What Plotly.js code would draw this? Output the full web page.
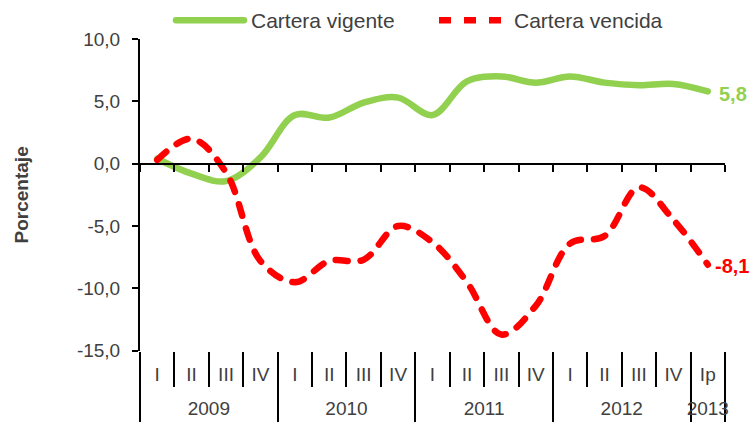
<!DOCTYPE html>
<html>
<head>
<meta charset="utf-8">
<script src="https://cdn.plot.ly/plotly-3.0.1.min.js"></script>
<style>
html,body{margin:0;padding:0;background:#fff;}
#chart{width:754px;height:422px;}
</style>
</head>
<body>
<div id="chart"></div>
<script>
// ---- data ----
const years = ['2009','2009','2009','2009','2010','2010','2010','2010','2011','2011','2011','2011','2012','2012','2012','2012','2013'];
const quarters = ['I','II','III','IV','I','II','III','IV','I','II','III','IV','I','II','III','IV','Ip'];
const carteraVigente = [0.4, -0.8, -1.4, 0.5, 3.9, 3.7, 4.9, 5.3, 3.9, 6.6, 7.0, 6.5, 7.0, 6.5, 6.3, 6.4, 5.8];
const carteraVencida = [0.3, 2.0, -0.7, -7.8, -9.5, -7.8, -7.7, -5.0, -6.3, -9.5, -13.7, -11.4, -6.4, -5.8, -1.9, -4.5, -8.1];
const yTickVals = [-15, -10, -5, 0, 5, 10];
const yTickText = ['-15,0', '-10,0', '-5,0', '0,0', '5,0', '10,0'];
const seriesNames = ['Cartera vigente', 'Cartera vencida'];

(function () {
// ---- derived positions (category index space) ----
const n = quarters.length;
const idx = quarters.map((q, i) => i);
const qBounds = [];
for (let i = 0; i <= n; i++) qBounds.push(i - 0.5);
const yearNames = [], yearCenters = [], yearBounds = [-0.5];
years.forEach((y, i) => {
  if (yearNames[yearNames.length - 1] !== y) { yearNames.push(y); }
  if (i === n - 1 || years[i + 1] !== y) yearBounds.push(i + 0.5);
});
for (let k = 0; k < yearNames.length; k++) yearCenters.push((yearBounds[k] + yearBounds[k + 1]) / 2);

const green = '#92D050', red = '#FF0000', txt = '#404040';
const fmt = v => v.toFixed(1).replace('.', ',');

const H = 422, topM = 35, plotBottom = 350;
const paperH = H - topM;
const yd = (H - plotBottom) / paperH;          // y-axis domain start (paper fraction)
const zeroPos = yd + (1 - yd) * (15 / 25);     // paper fraction of y = 0
const legY = (H - 16) / paperH;

const traces = [
  {x: idx, y: carteraVigente, name: seriesNames[0], type: 'scatter', mode: 'lines', legend: 'legend',
   line: {color: green, width: 6.5, shape: 'spline', smoothing: 1}, xaxis: 'x2', yaxis: 'y', hoverinfo: 'skip'},
  {x: idx, y: carteraVencida, name: seriesNames[1], type: 'scatter', mode: 'lines', legend: 'legend2',
   line: {color: red, width: 6.5, shape: 'spline', smoothing: 1, dash: '12px,13px'}, xaxis: 'x2', yaxis: 'y', hoverinfo: 'skip'},
  // invisible carriers so the label axes are drawn
  {x: idx, y: carteraVigente, type: 'scatter', mode: 'none', showlegend: false, xaxis: 'x', yaxis: 'y', hoverinfo: 'skip'},
  {x: idx, y: carteraVigente, type: 'scatter', mode: 'none', showlegend: false, xaxis: 'x3', yaxis: 'y', hoverinfo: 'skip'}
];

const legendBase = {orientation: 'h', xanchor: 'left', yanchor: 'middle', y: legY,
                    font: {size: 21, color: txt}, itemwidth: 70, bgcolor: 'rgba(0,0,0,0)'};

const layout = {
  width: 754, height: H,
  margin: {l: 140, r: 29, t: topM, b: 0},
  paper_bgcolor: '#fff', plot_bgcolor: 'rgba(0,0,0,0)',
  font: {family: 'Liberation Sans, Arial, sans-serif', size: 19, color: txt},
  showlegend: true,
  legend: Object.assign({}, legendBase, {x: (171 - 140) / 585}),
  legend2: Object.assign({}, legendBase, {x: (434 - 140) / 585}),
  // quarter labels + quarter separators
  xaxis: {type: 'linear', range: [-0.5, n - 0.5], anchor: 'y', showline: false, showgrid: false, zeroline: false,
          tickmode: 'array', tickvals: idx, ticktext: quarters, ticks: '', ticklabelstandoff: 10,
          tickfont: {size: 19, color: txt},
          minor: {tickmode: 'array', tickvals: qBounds, ticks: 'outside', ticklen: 35, tickwidth: 2, tickcolor: '#000', showgrid: false}},
  // zero line with small ticks
  xaxis2: {overlaying: 'x', anchor: 'free', position: zeroPos, type: 'linear', range: [-0.5, n - 0.5],
           tickmode: 'array', tickvals: qBounds, ticks: 'outside', ticklen: 7, tickwidth: 2, tickcolor: '#000',
           showline: true, linewidth: 2.5, linecolor: '#000', showticklabels: false,
           showgrid: false, zeroline: false, side: 'bottom'},
  // year labels + year separators
  xaxis3: {overlaying: 'x', anchor: 'free', position: yd, type: 'linear', range: [-0.5, n - 0.5], side: 'bottom',
           showline: false, showgrid: false, zeroline: false,
           tickmode: 'array', tickvals: yearCenters, ticktext: yearNames, ticks: '',
           ticklabelstandoff: 44, tickfont: {size: 19, color: txt},
           minor: {tickmode: 'array', tickvals: yearBounds, ticks: 'outside', ticklen: 72, tickwidth: 2, tickcolor: '#000', showgrid: false}},
  yaxis: {domain: [yd, 1], range: [-15, 10], tickvals: yTickVals, ticktext: yTickText, ticks: 'outside', ticklen: 6,
          tickwidth: 2, tickcolor: '#000', showline: true, linewidth: 2, linecolor: '#000', ticklabelstandoff: 8,
          showgrid: false, zeroline: false, tickfont: {size: 19, color: txt},
          title: {text: '<b>Porcentaje</b>', font: {size: 19, color: txt}, standoff: 43}},
  annotations: [
    {xref: 'x2', yref: 'y', x: n - 1, y: carteraVigente[n - 1], text: '<b>' + fmt(carteraVigente[n - 1]) + '</b>',
     showarrow: false, xanchor: 'left', xshift: 9, yshift: -3, font: {size: 20, color: green}},
    {xref: 'x2', yref: 'y', x: n - 1, y: carteraVencida[n - 1], text: '<b>' + fmt(carteraVencida[n - 1]) + '</b>',
     showarrow: false, xanchor: 'left', xshift: 5, yshift: -1, font: {size: 20, color: red}}
  ]
};

Plotly.newPlot('chart', traces, layout, {staticPlot: true, displayModeBar: false}).then(() => {
  document.querySelectorAll('#chart .scatterlayer path.js-line').forEach(p => {
    p.style.strokeLinecap = 'round';
  });
  document.querySelectorAll('#chart .legend path.js-line').forEach(p => {
    p.setAttribute('d', 'M5,0h68');
    p.style.strokeLinecap = 'round';
  });
});
})();
</script>
</body>
</html>
